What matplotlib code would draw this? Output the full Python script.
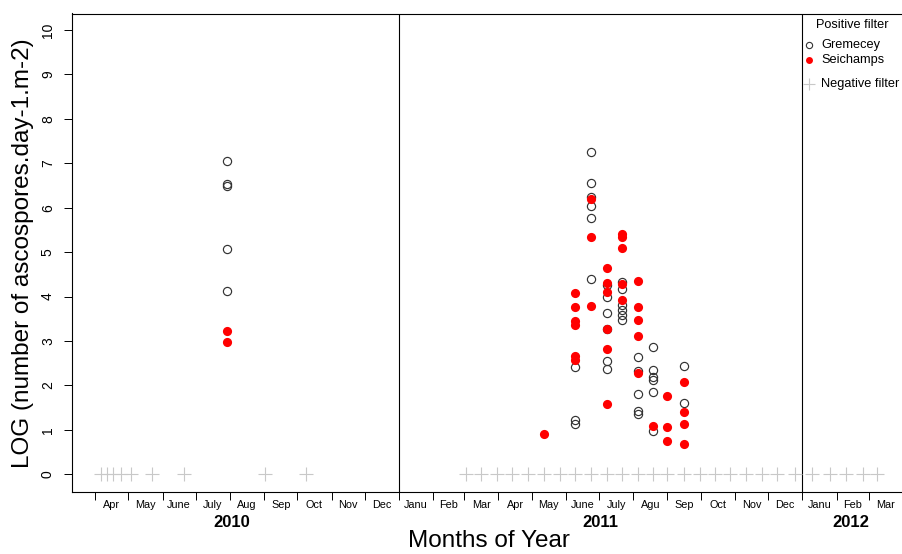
import matplotlib.pyplot as plt
from matplotlib.lines import Line2D
from matplotlib.ticker import FixedLocator, FixedFormatter, NullFormatter
import numpy as np
import pandas as pd

plt.rcParams['font.family'] = ['Liberation Sans', 'DejaVu Sans']

# positive filters, Gremecey trap: sampling date and LOG counts on that date
gremecey_dates = ['2010-07-29', '2011-06-09', '2011-06-24', '2011-07-08',
                  '2011-07-22', '2011-08-05', '2011-08-19', '2011-09-16']
gremecey_log = [[7.05, 6.53, 6.49, 5.08, 4.13],
                [2.42, 1.22, 1.13],
                [7.25, 6.56, 6.25, 6.04, 5.77, 4.39],
                [4.27, 3.98, 3.64, 3.28, 2.55, 2.36],
                [4.32, 4.17, 3.80, 3.69, 3.58, 3.47],
                [2.63, 2.33, 1.80, 1.42, 1.35],
                [2.87, 2.35, 2.18, 2.12, 1.84, 0.98],
                [2.44, 1.60]]

# positive filters, Seichamps trap
seichamps_dates = ['2010-07-29', '2011-05-12', '2011-06-09', '2011-06-24',
                   '2011-07-08', '2011-07-22', '2011-08-05', '2011-08-19',
                   '2011-09-01', '2011-09-16']
seichamps_log = [[3.23, 2.98],
                 [0.90],
                 [4.07, 3.77, 3.44, 3.36, 2.66, 2.57],
                 [6.19, 5.33, 3.79],
                 [4.65, 4.30, 4.11, 3.27, 2.82, 1.59],
                 [5.40, 5.33, 5.09, 4.28, 3.93],
                 [4.35, 3.77, 3.47, 3.11, 2.27],
                 [1.09],
                 [1.76, 1.07, 0.75],
                 [2.08, 1.39, 1.14, 0.69]]

# sampling dates with a negative filter (plotted at 0)
negative_dates = ['2010-04-06', '2010-04-12', '2010-04-17', '2010-04-24',
                  '2010-05-03', '2010-05-22', '2010-06-20', '2010-09-02',
                  '2010-10-09',
                  '2011-03-03', '2011-03-16', '2011-03-31', '2011-04-13',
                  '2011-04-28', '2011-05-12', '2011-05-27', '2011-06-09',
                  '2011-06-24', '2011-07-08', '2011-07-22', '2011-08-05',
                  '2011-08-19', '2011-09-01', '2011-09-16', '2011-09-30',
                  '2011-10-14', '2011-10-28', '2011-11-11', '2011-11-26',
                  '2011-12-09', '2011-12-25', '2012-01-10', '2012-01-26',
                  '2012-02-10', '2012-02-25', '2012-03-09']

month_labels = ['Apr', 'May', 'June', 'July', 'Aug', 'Sep', 'Oct', 'Nov', 'Dec',
                'Janu', 'Feb', 'Mar', 'Apr', 'May', 'June', 'July', 'Agu', 'Sep',
                'Oct', 'Nov', 'Dec', 'Janu', 'Feb', 'Mar']
year_labels = ['2010', '2011', '2012']
year_pos = ['2010-08-03', '2011-07-02', '2012-02-14']
year_breaks = ['2011-01-01', '2012-01-01']


def expand(dates, values):
    x = np.concatenate([[pd.Timestamp(d)] * len(v) for d, v in zip(dates, values)])
    y = np.concatenate(values)
    return x, y


fig = plt.figure(figsize=(9.02, 5.54), dpi=100)
ax = fig.add_axes([72 / 902, 62 / 554, 833 / 902, 478.5 / 554])

gx, gy = expand(gremecey_dates, gremecey_log)
sx, sy = expand(seichamps_dates, seichamps_log)
nx = pd.to_datetime(negative_dates)

ax.plot(nx, np.zeros(len(nx)), ls='none', marker='+', ms=10, mew=0.8,
        color='#c8c8c8', zorder=2)
ax.plot(gx, gy, ls='none', marker='o', ms=5.9, mew=0.85, mfc='none',
        mec='#333333', zorder=3)
ax.plot(sx, sy, ls='none', marker='o', ms=6.6, mew=0, color='red', zorder=4)

for d in year_breaks:
    ax.axvline(pd.Timestamp(d), color='black', lw=0.8, zorder=1)

ax.set_xlim(pd.Timestamp('2010-03-11'), pd.Timestamp('2012-04-03'))
ax.set_ylim(-0.40, 10.37)

# month boundaries as major ticks, month names centred in between
edges = pd.date_range('2010-04-01', '2012-04-01', freq='MS')
nums = plt.matplotlib.dates.date2num(edges)
ax.xaxis.set_major_locator(FixedLocator(nums[:-1]))
ax.xaxis.set_major_formatter(NullFormatter())
ax.xaxis.set_minor_locator(FixedLocator((nums[:-1] + nums[1:]) / 2))
ax.xaxis.set_minor_formatter(FixedFormatter(month_labels))
ax.tick_params(axis='x', which='major', length=5.5, width=0.7, direction='out')
ax.tick_params(axis='x', which='minor', length=0, pad=6, labelsize=7.8)

ax.set_yticks(range(0, 11))
ax.tick_params(axis='y', length=5.8, width=0.7, pad=6.5, labelsize=10,
               labelrotation=90)
for lab in ax.get_yticklabels():
    lab.set_va('center')

for s in ax.spines.values():
    s.set_linewidth(0.8)

for lab, d in zip(year_labels, year_pos):
    ax.text(pd.Timestamp(d), -0.064, lab, transform=ax.get_xaxis_transform(),
            ha='center', va='center', fontsize=12, fontweight='bold')

ax.set_xlabel('Months of Year', fontsize=17.5, labelpad=14.5)
ax.set_ylabel('LOG (number of ascospores.day-1.m-2)', fontsize=17.5, labelpad=5)

# legend in the right-hand margin
fig.text(816 / 902, 1 - 25 / 554, 'Positive filter', fontsize=9.2, va='center')
legend_rows = [('Gremecey', dict(marker='o', ms=4.5, mew=0.8, mfc='none', mec='#333333'), 45),
               ('Seichamps', dict(marker='o', ms=5, mew=0, color='red'), 60),
               ('Negative filter', dict(marker='+', ms=9, mew=0.8, color='#c8c8c8'), 84)]
for text, style, ypix in legend_rows:
    yf = 1 - ypix / 554
    fig.add_artist(Line2D([809 / 902], [yf], transform=fig.transFigure,
                          ls='none', **style))
    fig.text(821 / 902, yf, text, fontsize=9.2, va='center')

fig.savefig('out.png', dpi=100)
